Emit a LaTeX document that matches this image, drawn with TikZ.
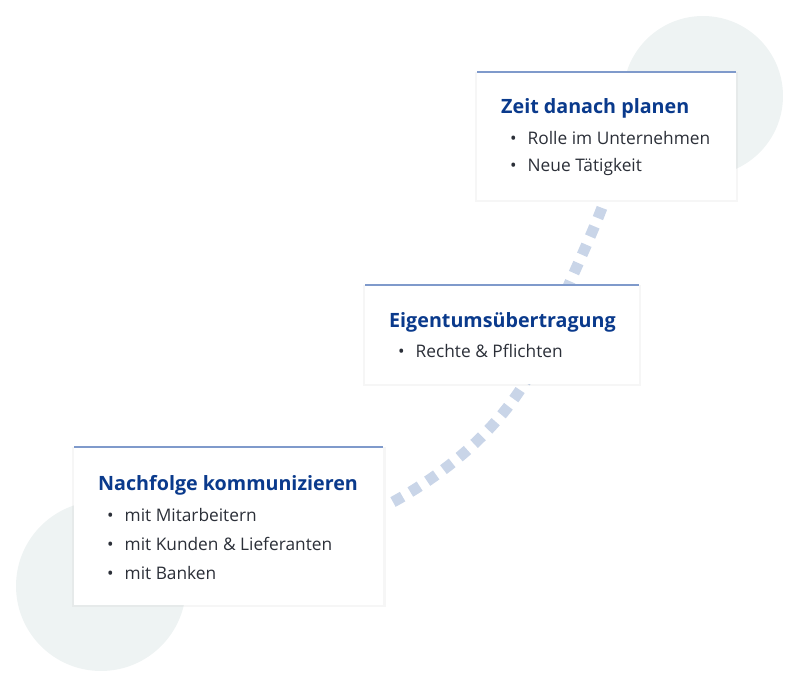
\documentclass[tikz,border=0pt]{standalone}
\usepackage{fontspec}
\setmainfont{Open Sans}
\usetikzlibrary{positioning,shadows}
\definecolor{titleblue}{HTML}{0A3A8C}
\definecolor{textgray}{HTML}{2B2F38}
\definecolor{topline}{HTML}{7F9ACB}
\definecolor{dotblue}{HTML}{C9D5E8}
\definecolor{bubble}{HTML}{EEF3F3}
\tikzset
{
  card/.style={fill=white,inner sep=0pt,drop shadow={opacity=0.07,shadow xshift=0pt,shadow yshift=-1pt,shadow scale=1.015}},
  cardtop/.style={topline,line width=2pt},
  cardtitle/.style={anchor=west,inner sep=0pt,text=titleblue,font=\bfseries\fontsize{19.7}{22}\selectfont},
  item/.style={anchor=west,inner sep=0pt,text=textgray,font=\fontsize{17.3}{20}\selectfont},
  steppath/.style={dotblue,line width=11pt,dash pattern=on 11pt off 9pt}
}
\begin{document}
\begin{tikzpicture}[x=1pt,y=-1pt]
  \useasboundingbox (0,0) rectangle (807,687);
  % kroge v ozadju
  \fill[bubble] (703,96) circle [radius=80];
  \fill[bubble] (101,586) circle [radius=85];
  % pot med koraki
  \draw[steppath] (393,502) .. controls (470,460) and (525,400) .. (548,335)
                            .. controls (565,290) and (590,240) .. (603,205);
  % kartice
  \node[card,minimum width=259,minimum height=128,anchor=north west] (zeit) at (477,72) {};
  \node[card,minimum width=274,minimum height=99,anchor=north west] (eigen) at (365,285) {};
  \node[card,minimum width=309,minimum height=158,anchor=north west] (nach) at (74,447) {};
  \foreach\c in{zeit,eigen,nach}
    \draw[cardtop] (\c.north west) -- (\c.north east);
  % besedila
  \node[cardtitle] (zeitT) at (501,108) {Zeit danach planen};
  \node[item] (zeit1) at (510,138) {•\hspace{11pt}Rolle im Unternehmen};
  \node[item] (zeit2) at (510,167) {•\hspace{11pt}Neue Tätigkeit};
  \node[cardtitle] (eigenT) at (389,322) {Eigentumsübertragung};
  \node[item] (eigen1) at (398,351) {•\hspace{11pt}Rechte \& Pflichten};
  \node[cardtitle] (nachT) at (98,485) {Nachfolge kommunizieren};
  \node[item] (nach1) at (107,515) {•\hspace{11pt}mit Mitarbeitern};
  \node[item] (nach2) at (107,544) {•\hspace{11pt}mit Kunden \& Lieferanten};
  \node[item] (nach3) at (107,573) {•\hspace{11pt}mit Banken};
\end{tikzpicture}
\end{document}
